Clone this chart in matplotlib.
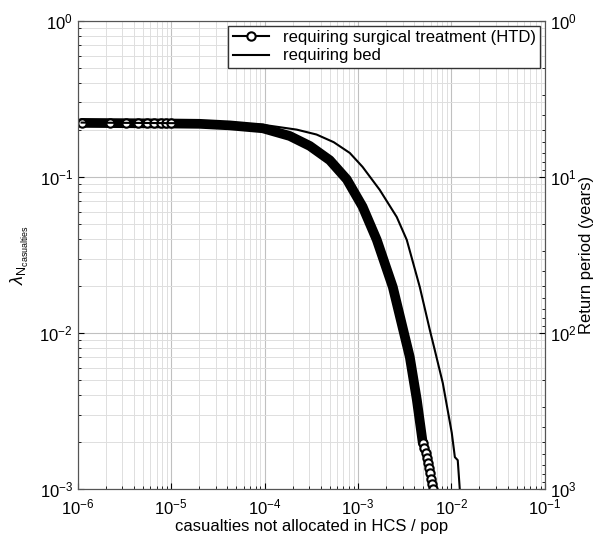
import numpy as np
import matplotlib
matplotlib.use("Agg")
import matplotlib.pyplot as plt
from matplotlib.lines import Line2D
from matplotlib.ticker import LogLocator, NullFormatter

plt.rcParams['font.family'] = ['Liberation Sans', 'DejaVu Sans']
plt.rcParams['mathtext.fontset'] = 'custom'
plt.rcParams['mathtext.rm'] = 'Liberation Sans'
plt.rcParams['mathtext.it'] = 'Liberation Sans:italic'

# HTD curve
htd_x = [1.1e-6, 1e-5, 2.02e-5, 4.24e-5, 9.58e-5, 1.86e-4, 3.05e-4, 4.99e-4,
         7.59e-4, 1.12e-3, 1.59e-3, 2.36e-3, 3.59e-3, 4.27e-3, 4.94e-3]
htd_y = [0.222, 0.220, 0.219, 0.214, 0.205, 0.183, 0.158, 0.128,
         0.0965, 0.0645, 0.0395, 0.0197, 7.0e-3, 3.72e-3, 1.97e-3]

# individual markers that can be told apart (start and tail)
mk_x = [1.1e-6, 2.2e-6, 3.3e-6, 4.4e-6, 5.5e-6, 6.6e-6, 7.7e-6, 8.8e-6, 9.9e-6,
        4.94e-3, 5.06e-3, 5.32e-3, 5.45e-3, 5.59e-3, 5.73e-3, 5.87e-3, 6.01e-3,
        6.17e-3, 6.32e-3]
mk_y = [0.222, 0.222, 0.222, 0.222, 0.222, 0.222, 0.222, 0.222, 0.222,
        1.97e-3, 1.83e-3, 1.70e-3, 1.58e-3, 1.47e-3, 1.36e-3, 1.27e-3, 1.16e-3,
        1.08e-3, 1.0e-3]

# bed curve
bed_x = [1.1e-6, 4.24e-5, 9.58e-5, 2.21e-4, 3.6e-4, 5.5e-4, 8.17e-4, 1.12e-3,
         1.71e-3, 2.60e-3, 3.33e-3, 4.59e-3, 5.88e-3, 6.64e-3, 8.09e-3, 1.01e-2,
         1.09e-2, 1.17e-2, 1.23e-2]
bed_y = [0.223, 0.220, 0.216, 0.201, 0.187, 0.167, 0.1425, 0.116,
         0.0826, 0.0554, 0.0395, 0.0197, 0.01045, 7.78e-3, 4.78e-3, 2.29e-3,
         1.60e-3, 1.53e-3, 1.0e-3]

fig = plt.figure(figsize=(5.98, 5.36), dpi=100)
ax = fig.add_axes([0.130, 0.0877, 0.781, 0.8733])

ax.plot(htd_x, htd_y, color='black', lw=7, solid_capstyle='round', solid_joinstyle='round')
ax.plot(mk_x, mk_y, 'o', color='black', mfc='white', mew=1.5, ms=6)
ax.plot(bed_x, bed_y, color='black', lw=1.5)

ax.set_xscale('log')
ax.set_yscale('log')
ax.set_xlim(1e-6, 1e-1)
ax.set_ylim(1e-3, 1e0)
ax.xaxis.set_major_locator(LogLocator(base=10, numticks=10))
ax.yaxis.set_major_locator(LogLocator(base=10, numticks=10))
ax.xaxis.set_minor_locator(LogLocator(base=10, subs=np.arange(2, 10), numticks=10))
ax.yaxis.set_minor_locator(LogLocator(base=10, subs=np.arange(2, 10), numticks=10))
ax.xaxis.set_minor_formatter(NullFormatter())
ax.yaxis.set_minor_formatter(NullFormatter())
ax.grid(True, which='major', color='#c0c0c0', lw=0.8)
ax.grid(True, which='minor', color='#dedede', lw=0.7)
ax.tick_params(which='both', direction='in', labelsize=12, top=False, right=False)
ax.tick_params(which='major', length=4)
ax.tick_params(which='minor', length=2.5)
ax.tick_params(axis='x', pad=6)
for s in ax.spines.values():
    s.set_color('#555555')

ax.set_xlabel('casualties not allocated in HCS / pop', fontsize=12, labelpad=1)
ax.set_ylabel(r'$\lambda_{\mathrm{N}_{\mathrm{casualties}}}$', fontsize=13, labelpad=6)

ax2 = ax.twinx()
ax2.set_yscale('log')
ax2.set_ylim(1e3, 1e0)
ax2.yaxis.set_major_locator(LogLocator(base=10, numticks=10))
ax2.yaxis.set_minor_locator(LogLocator(base=10, subs=np.arange(2, 10), numticks=10))
ax2.yaxis.set_minor_formatter(NullFormatter())
ax2.tick_params(which='both', direction='in', labelsize=12)
ax2.tick_params(which='major', length=4)
ax2.tick_params(which='minor', length=2.5)
ax2.set_ylabel('Return period (years)', fontsize=12, labelpad=2)
for s in ax2.spines.values():
    s.set_color('#555555')

handles = [Line2D([], [], color='black', lw=1.5, marker='o', mfc='white', mew=1.5, ms=6),
           Line2D([], [], color='black', lw=1.5)]
leg = ax.legend(handles, ['requiring surgical treatment (HTD)', 'requiring bed'],
                loc='upper right', fontsize=12, fancybox=False, framealpha=1,
                edgecolor='#333333', borderpad=0.25, labelspacing=0.2,
                handlelength=2.2, borderaxespad=0.3)
leg.get_frame().set_linewidth(1)

fig.savefig('out.png', dpi=100)
